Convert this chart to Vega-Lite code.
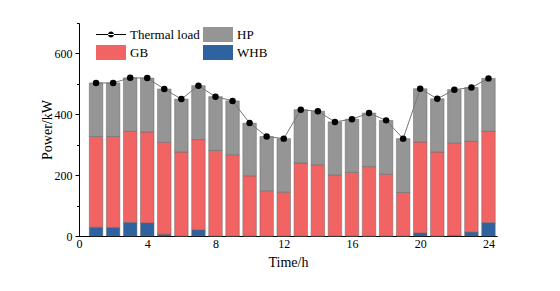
{
  "$schema": "https://vega.github.io/schema/vega-lite/v6.json",
  "width": 418,
  "height": 213,
  "autosize": {"type": "none"},
  "padding": {"left": 79, "top": 23, "right": 63, "bottom": 55},
  "background": "white",
  "config": {
    "view": {"stroke": null},
    "axis": {
      "grid": false,
      "domainColor": "black",
      "tickColor": "black",
      "labelColor": "black",
      "titleColor": "black",
      "labelFont": "Liberation Serif",
      "titleFont": "Liberation Serif",
      "labelFontSize": 12,
      "titleFontSize": 14,
      "titleFontWeight": "normal"
    },
    "legend": {
      "labelFont": "Liberation Serif",
      "labelFontSize": 13,
      "labelColor": "black",
      "padding": 0
    }
  },
  "data": {
    "values": [
      {"t": 1, "WHB": 29, "GB": 298, "HP": 176, "load": 503},
      {"t": 2, "WHB": 28, "GB": 299, "HP": 176, "load": 503},
      {"t": 3, "WHB": 45, "GB": 299, "HP": 176, "load": 520},
      {"t": 4, "WHB": 43, "GB": 299, "HP": 177, "load": 519},
      {"t": 5, "WHB": 6, "GB": 302, "HP": 175, "load": 483},
      {"t": 6, "WHB": 0, "GB": 276, "HP": 174, "load": 450},
      {"t": 7, "WHB": 20, "GB": 297, "HP": 177, "load": 494},
      {"t": 8, "WHB": 0, "GB": 281, "HP": 177, "load": 458},
      {"t": 9, "WHB": 0, "GB": 267, "HP": 177, "load": 444},
      {"t": 10, "WHB": 0, "GB": 198, "HP": 173, "load": 371},
      {"t": 11, "WHB": 0, "GB": 149, "HP": 178, "load": 327},
      {"t": 12, "WHB": 0, "GB": 144, "HP": 176, "load": 320},
      {"t": 13, "WHB": 0, "GB": 240, "HP": 175, "load": 415},
      {"t": 14, "WHB": 0, "GB": 234, "HP": 176, "load": 410},
      {"t": 15, "WHB": 0, "GB": 200, "HP": 175, "load": 375},
      {"t": 16, "WHB": 0, "GB": 209, "HP": 175, "load": 384},
      {"t": 17, "WHB": 0, "GB": 228, "HP": 176, "load": 404},
      {"t": 18, "WHB": 0, "GB": 203, "HP": 177, "load": 380},
      {"t": 19, "WHB": 0, "GB": 143, "HP": 177, "load": 320},
      {"t": 20, "WHB": 10, "GB": 299, "HP": 175, "load": 484},
      {"t": 21, "WHB": 0, "GB": 276, "HP": 175, "load": 451},
      {"t": 22, "WHB": 2, "GB": 303, "HP": 176, "load": 481},
      {"t": 23, "WHB": 13, "GB": 298, "HP": 177, "load": 488},
      {"t": 24, "WHB": 44, "GB": 300, "HP": 174, "load": 518}
    ]
  },
  "layer": [
    {
      "transform": [
        {"fold": ["WHB", "GB", "HP"], "as": ["series", "value"]},
        {"calculate": "indexof(['WHB','GB','HP'], datum.series)", "as": "ord"}
      ],
      "mark": {"type": "bar", "size": 13.5, "stroke": "#666", "strokeWidth": 0.5},
      "encoding": {
        "x": {
          "field": "t", "type": "quantitative",
          "scale": {"domain": [0, 24.5], "nice": false, "zero": true, "padding": 0},
          "axis": {"values": [0, 4, 8, 12, 16, 20, 24], "title": "Time/h", "tickSize": -4, "labelPadding": 6, "titlePadding": 6, "labelFlush": false}
        },
        "y": {
          "field": "value", "type": "quantitative", "stack": "zero",
          "scale": {"domain": [0, 700], "nice": false, "padding": 0},
          "axis": {"values": [0, 200, 400, 600], "title": "Power/kW", "tickSize": 4, "labelPadding": 3, "titlePadding": 0}
        },
        "order": {"field": "ord", "type": "quantitative"},
        "color": {
          "field": "series", "type": "nominal",
          "scale": {"domain": ["Thermal load", "HP", "GB", "WHB"], "range": ["transparent", "#959595", "#f26464", "#2f63a0"]},
          "legend": {
            "orient": "none", "legendX": 17, "legendY": 4, "columns": 2, "direction": "horizontal", "title": null, "padding": 0,
            "symbolSize": 225, "symbolType": "M-1,-1H3V1H-1Z", "symbolStrokeColor": "transparent", "symbolStrokeWidth": 0,
            "labelFont": "Liberation Serif", "labelFontSize": 13, "labelColor": "black",
            "rowPadding": 3, "columnPadding": 3, "labelOffset": 19
          }
        }
      }
    },
    {
      "mark": {"type": "line", "color": "#777", "strokeWidth": 1},
      "encoding": {
        "x": {"field": "t", "type": "quantitative", "axis": {"orient": "bottom", "values": [2, 6, 10, 14, 18, 22], "labels": false, "title": null, "tickSize": -2.5, "domain": false}},
        "y": {"field": "load", "type": "quantitative", "axis": {"orient": "left", "values": [100, 300, 500, 700], "labels": false, "title": null, "tickSize": 2.5, "domain": false}}
      }
    },
    {
      "mark": {"type": "point", "filled": true, "size": 42, "opacity": 1, "color": "black"},
      "encoding": {
        "x": {"field": "t", "type": "quantitative", "axis": null},
        "y": {"field": "load", "type": "quantitative", "axis": null}
      }
    },
    {
      "transform": [{"filter": "false"}],
      "mark": {"type": "point", "filled": true, "color": "black", "opacity": 1},
      "encoding": {
        "x": {"field": "t", "type": "quantitative", "axis": null},
        "y": {"field": "load", "type": "quantitative", "axis": null},
        "shape": {
          "datum": "Thermal load",
          "scale": {"domain": ["Thermal load"], "range": ["M-1,-0.07H3V0.07H-1Z M0.6,0A0.4,0.4 0 1,0 1.4,0A0.4,0.4 0 1,0 0.6,0Z"]},
          "legend": {
            "orient": "none", "legendX": 17, "legendY": 4, "title": null, "padding": 0,
            "symbolSize": 225, "symbolFillColor": "black", "symbolStrokeWidth": 0, "symbolOpacity": 1,
            "labelFont": "Liberation Serif", "labelFontSize": 13, "labelOpacity": 0, "labelOffset": 19
          }
        }
      }
    }
  ],
  "resolve": {"axis": {"x": "independent", "y": "independent"}}
}
